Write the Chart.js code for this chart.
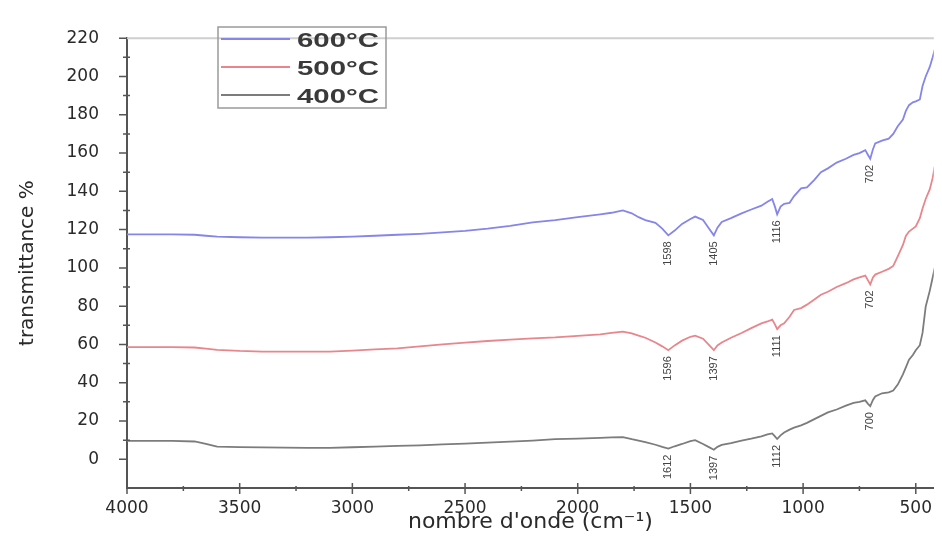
<!DOCTYPE html>
<html>
<head>
<meta charset="utf-8">
<script src="https://cdn.jsdelivr.net/npm/chart.js@4"></script>
<style>
html, body { margin: 0; padding: 0; background: #fff; }
#wrap { width: 942px; height: 551px; position: relative; }
</style>
</head>
<body>
<div id="wrap"><canvas id="chart"></canvas></div>
<script>
// nombre d'onde (cm-1), commun aux trois spectres
const ondes = [4000, 3900, 3800, 3700, 3650, 3600, 3500, 3400, 3300, 3200, 3100, 3000, 2900, 2800, 2700, 2600,
    2500, 2400, 2300, 2200, 2100, 2000, 1900, 1850, 1800, 1760, 1730, 1700, 1655, 1625, 1598, 1570, 1537, 1500,
    1479, 1444, 1420, 1396, 1380, 1361, 1320, 1273, 1230, 1185, 1158, 1137, 1125, 1115, 1100, 1084, 1060, 1040,
    1009, 983, 950, 921, 890, 851, 810, 776, 750, 724, 712, 702, 690, 680, 650, 620, 600, 580, 557, 544, 530,
    513, 500, 482, 470, 456, 438, 425, 416];

// transmittance % pour chaque temperature
const t600 = [117.5, 117.5, 117.5, 117.3, 116.8, 116.3, 116, 115.8, 115.8, 115.8, 116, 116.3, 116.8, 117.3, 117.8, 118.5,
    119.3, 120.5, 122, 123.8, 125, 126.5, 128, 128.8, 130, 128.5, 126.5, 125, 123.5, 120.5, 117, 119.5, 123, 125.5,
    126.8, 125, 121, 117, 121, 124, 126, 128.5, 130.5, 132.5, 134.5, 136, 132, 128, 132, 133.5, 134, 137.5,
    141.5, 142, 146, 150, 152, 155, 157, 159, 160, 161.5, 159, 157, 162, 165, 166.5, 167.5, 170, 174, 177.5, 182, 185,
    186.5, 187, 188, 195, 200, 205, 210, 214];
const t500 = [58.6, 58.6, 58.6, 58.4, 57.8, 57.2, 56.6, 56.3, 56.2, 56.2, 56.3, 56.8, 57.4, 58, 59, 60,
    61, 61.8, 62.5, 63.2, 63.7, 64.5, 65.3, 66, 66.7, 65.8, 64.6, 63.5, 61, 59, 57, 59.5, 62, 64,
    64.6, 63, 60, 57, 59.5, 61, 63.5, 66, 68.5, 71, 72, 73, 70.5, 68, 70, 71, 74.5, 78,
    79, 80.8, 83.5, 86, 87.5, 90, 92, 94, 95, 96, 93.5, 91.4, 95, 96.5, 98, 99.5, 101, 106, 112, 116.7, 119,
    120.5, 121.7, 126, 131, 136, 141, 147, 153];
const t400 = [9.6, 9.6, 9.6, 9.3, 8, 6.6, 6.4, 6.2, 6.1, 6, 6, 6.3, 6.6, 7, 7.3, 7.8,
    8.2, 8.7, 9.2, 9.8, 10.5, 10.8, 11.2, 11.5, 11.6, 10.5, 9.8, 9, 7.6, 6.5, 5.6, 6.8, 8, 9.5,
    10, 8, 6.5, 5, 6.5, 7.5, 8.5, 9.8, 10.8, 12, 13, 13.5, 12, 10.6, 12.5, 14, 15.5, 16.5,
    17.7, 19, 21, 22.7, 24.5, 26, 28, 29.5, 30, 30.8, 29, 27.8, 31, 32.8, 34.5, 35, 35.9, 39, 44.4, 48, 52,
    54.5, 57, 59.6, 66, 79.8, 88, 95, 100];

// bandes annotees (position du minimum et texte affiche)
const pics = [1598, 1396, 1115, 702];
const etiq600 = ['1598', '1405', '1116', '702'];
const etiq500 = ['1596', '1397', '1111', '702'];
const etiq400 = ['1612', '1397', '1112', '700'];

const ticksX = [4000, 3500, 3000, 2500, 2000, 1500, 1000, 500];
const ticksY = [0, 20, 40, 60, 80, 100, 120, 140, 160, 180, 200, 220];

function serie(valeurs) {
    return ondes.map((x, i) => ({ x: x, y: valeurs[i] }));
}

// cadre, graduations, legende et etiquettes des bandes
const decor = {
    id: 'decor',
    afterDatasetsDraw(chart) {
        const c = chart.ctx;
        const a = chart.chartArea;
        const sx = chart.scales.x;
        const sy = chart.scales.y;
        c.save();

        // ligne du haut
        c.strokeStyle = '#cfcfcf';
        c.lineWidth = 2;
        c.beginPath();
        c.moveTo(a.left, a.top);
        c.lineTo(a.right, a.top);
        c.stroke();

        // graduations
        c.strokeStyle = '#555';
        c.lineWidth = 1.5;
        c.beginPath();
        ticksX.forEach(v => {
            const px = sx.getPixelForValue(v);
            c.moveTo(px, a.bottom - 5);
            c.lineTo(px, a.bottom + 6);
            const m = v - 250;
            if (m >= sx.min) {
                const pm = sx.getPixelForValue(m);
                c.moveTo(pm, a.bottom - 2);
                c.lineTo(pm, a.bottom + 3);
            }
        });
        ticksY.forEach(v => {
            const py = sy.getPixelForValue(v);
            c.moveTo(a.left - 8, py);
            c.lineTo(a.left, py);
            const m = v + 10;
            if (m <= sy.max) {
                const pm = sy.getPixelForValue(m);
                c.moveTo(a.left - 4, pm);
                c.lineTo(a.left + 3, pm);
            }
        });
        c.stroke();

        // etiquettes verticales sous les minima
        c.fillStyle = '#444';
        c.font = '11px "Liberation Sans", Arial, sans-serif';
        c.textAlign = 'right';
        c.textBaseline = 'middle';
        chart.data.datasets.forEach(ds => {
            ds.pics.forEach((p, k) => {
                const pt = ds.data.find(d => d.x === p);
                const px = sx.getPixelForValue(pt.x);
                const py = sy.getPixelForValue(pt.y);
                c.save();
                c.translate(px, py + 6);
                c.rotate(-Math.PI / 2);
                c.fillText(ds.etiquettes[k], 0, 0);
                c.restore();
            });
        });

        // legende
        c.strokeStyle = '#9a9a9a';
        c.lineWidth = 1.5;
        c.strokeRect(218, 27, 168, 81);
        const ly = [40, 68, 96];
        c.font = 'bold 21px "Liberation Sans", Arial, sans-serif';
        c.textAlign = 'left';
        chart.data.datasets.forEach((ds, i) => {
            c.strokeStyle = ds.borderColor;
            c.lineWidth = 1.8;
            c.beginPath();
            c.moveTo(221, ly[i] - 1);
            c.lineTo(290, ly[i] - 1);
            c.stroke();
            c.save();
            c.translate(297, ly[i] + 1);
            c.scale(1.4, 1);
            c.fillStyle = '#3a3a3a';
            c.fillText(ds.label, 0, 0);
            c.restore();
        });
        c.restore();
    }
};

const ctx = document.getElementById('chart').getContext('2d');
new Chart(ctx, {
    type: 'line',
    data: {
        datasets: [
            { label: '600°C', data: serie(t600), borderColor: '#8585ea', pics: pics, etiquettes: etiq600 },
            { label: '500°C', data: serie(t500), borderColor: '#e8868c', pics: pics, etiquettes: etiq500 },
            { label: '400°C', data: serie(t400), borderColor: '#7c7c7c', pics: pics, etiquettes: etiq400 }
        ]
    },
    options: {
        responsive: true,
        maintainAspectRatio: false,
        animation: false,
        layout: { padding: { top: 22, right: 0, bottom: 0, left: 0 } },
        elements: {
            point: { radius: 0 },
            line: { borderWidth: 1.8, tension: 0 }
        },
        plugins: {
            legend: { display: false },
            tooltip: { enabled: false }
        },
        scales: {
            x: {
                type: 'linear',
                reverse: true,
                min: 420,
                max: 4000,
                afterBuildTicks: s => { s.ticks = ticksX.map(v => ({ value: v })); },
                afterFit: s => { s.height = 63; },
                grid: { display: false, drawTicks: false },
                border: { display: true, color: '#555', width: 2 },
                ticks: {
                    padding: 10,
                    color: '#2a2a2a',
                    maxRotation: 0,
                    autoSkip: false,
                    font: { family: 'DejaVu Sans', size: 17 },
                    callback: v => String(v)
                },
                title: {
                    display: true,
                    text: "nombre d'onde (cm⁻¹)",
                    color: '#2a2a2a',
                    font: { family: 'DejaVu Sans', size: 22 },
                    padding: { top: 0, bottom: 16 }
                }
            },
            y: {
                type: 'linear',
                min: -15,
                max: 220,
                afterBuildTicks: s => { s.ticks = ticksY.map(v => ({ value: v })); },
                afterFit: s => { s.width = 127; },
                grid: { display: false, drawTicks: false },
                border: { display: true, color: '#555', width: 2 },
                ticks: {
                    padding: 28,
                    color: '#2a2a2a',
                    font: { family: 'DejaVu Sans', size: 17 },
                    callback: v => String(v)
                },
                title: {
                    display: true,
                    text: 'transmittance %',
                    color: '#2a2a2a',
                    font: { family: 'DejaVu Sans', size: 20 },
                    padding: { top: 16, bottom: 0 }
                }
            }
        }
    },
    plugins: [decor]
});
</script>
</body>
</html>
